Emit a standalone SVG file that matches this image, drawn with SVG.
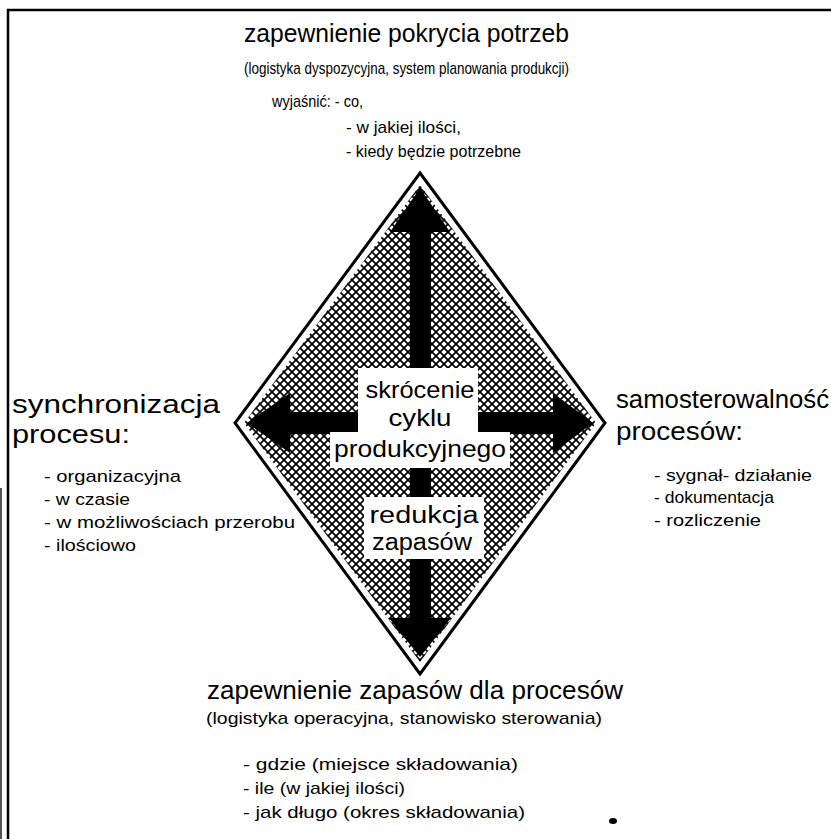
<svg xmlns="http://www.w3.org/2000/svg" width="831" height="839" viewBox="0 0 831 839">
  <style>
    text { font-family: "Liberation Sans", Arial, sans-serif; fill: #000; }
    .big { font-size: 26px; }
    .mid { font-size: 17px; }
    .ctr { font-size: 24px; text-anchor: middle; }
    .ctr2 { font-size: 23px; text-anchor: middle; }
    .frame { stroke: #000; stroke-width: 2.5; fill: none; }
    .arrow { fill: #000; stroke: none; }
    .box { fill: #fff; stroke: none; }
  </style>
  <defs>
    <!-- diagonal cross-hatch used inside the diamond -->
    <pattern id="xhatch" patternUnits="userSpaceOnUse" width="8" height="8">
      <rect width="8" height="8" fill="#fff"/>
      <path d="M-1,-1 L9,9 M9,-1 L-1,9" stroke="#000" stroke-width="1.7"/>
    </pattern>
  </defs>

  <rect width="831" height="839" fill="#fff"/>

  <!-- sheet frame (top and left edges) -->
  <g id="frame">
    <line class="frame" x1="7" y1="10" x2="831" y2="10"/>
    <line class="frame" x1="8" y1="9" x2="8" y2="839"/>
    <line x1="1" y1="488" x2="1" y2="839" stroke="#555" stroke-width="2"/>
    <ellipse cx="613" cy="821" rx="4" ry="3" fill="#000"/>
  </g>

  <!-- diamond with hatched field -->
  <g id="diamond">
    <polygon points="420,173 605,423 420,674 235,423" fill="#fff" stroke="#000" stroke-width="3"/>
    <polygon points="420,185 596,423 420,662 244,423" fill="url(#xhatch)"/>
  </g>

  <!-- four arrows from the centre -->
  <g id="connectors">
    <polygon class="arrow" points="420,188 450,232 431,232 431,368 410,368 410,232 390,232"/>
    <polygon class="arrow" points="247,423 290,393 290,412 358,412 358,434 290,434 290,453"/>
    <polygon class="arrow" points="593,423 553,393 553,412 478,412 478,434 553,434 553,453"/>
    <rect class="arrow" x="410" y="466" width="21" height="32"/>
    <polygon class="arrow" points="420,657 451,618 431,618 431,558 410,558 410,618 389,618"/>
  </g>

  <!-- centre labels -->
  <g id="centre">
    <path class="box" d="M358,368 H478 V432 H510 V468 H330 V432 H358 Z"/>
    <text class="ctr" x="420" y="398" textLength="109" lengthAdjust="spacingAndGlyphs">skrócenie</text>
    <text class="ctr" x="420" y="426" textLength="63" lengthAdjust="spacingAndGlyphs">cyklu</text>
    <text class="ctr" x="420" y="457" textLength="172" lengthAdjust="spacingAndGlyphs">produkcyjnego</text>
  </g>
  <g id="centre-2">
    <rect class="box" x="364" y="497" width="120" height="62"/>
    <text class="ctr2" x="424" y="523" textLength="109" lengthAdjust="spacingAndGlyphs">redukcja</text>
    <text class="ctr2" x="422" y="550" textLength="100" lengthAdjust="spacingAndGlyphs">zapasów</text>
  </g>

  <!-- top: demand coverage -->
  <g id="top">
    <text class="big" x="244" y="42" textLength="325" lengthAdjust="spacingAndGlyphs">zapewnienie pokrycia potrzeb</text>
    <text class="mid" x="244" y="74" textLength="325" lengthAdjust="spacingAndGlyphs">(logistyka dyspozycyjna, system planowania produkcji)</text>
    <text class="mid" x="272" y="107" textLength="91" lengthAdjust="spacingAndGlyphs">wyjaśnić: - co,</text>
    <text class="mid" x="346" y="133" textLength="115" lengthAdjust="spacingAndGlyphs">- w jakiej ilości,</text>
    <text class="mid" x="346" y="157" textLength="175" lengthAdjust="spacingAndGlyphs">- kiedy będzie potrzebne</text>
  </g>

  <!-- left: process synchronisation -->
  <g id="left">
    <text class="big" x="12" y="413" textLength="208" lengthAdjust="spacingAndGlyphs">synchronizacja</text>
    <text class="big" x="12" y="443" textLength="118" lengthAdjust="spacingAndGlyphs">procesu:</text>
    <text class="mid" x="44" y="482" textLength="137" lengthAdjust="spacingAndGlyphs">- organizacyjna</text>
    <text class="mid" x="44" y="505" textLength="86" lengthAdjust="spacingAndGlyphs">- w czasie</text>
    <text class="mid" x="44" y="528" textLength="251" lengthAdjust="spacingAndGlyphs">-  w możliwościach przerobu</text>
    <text class="mid" x="44" y="551" textLength="92" lengthAdjust="spacingAndGlyphs">- ilościowo</text>
  </g>

  <!-- right: self-control of processes -->
  <g id="right">
    <text class="big" x="616" y="408" textLength="213" lengthAdjust="spacingAndGlyphs">samosterowalność</text>
    <text class="big" x="616" y="440" textLength="127" lengthAdjust="spacingAndGlyphs">procesów:</text>
    <text class="mid" x="654" y="481" textLength="158" lengthAdjust="spacingAndGlyphs">- sygnał- działanie</text>
    <text class="mid" x="654" y="503" textLength="120" lengthAdjust="spacingAndGlyphs">- dokumentacja</text>
    <text class="mid" x="654" y="526" textLength="107" lengthAdjust="spacingAndGlyphs">- rozliczenie</text>
  </g>

  <!-- bottom: stock provision -->
  <g id="bottom">
    <text class="big" x="207" y="699" textLength="416" lengthAdjust="spacingAndGlyphs">zapewnienie  zapasów dla procesów</text>
    <text class="mid" x="206" y="724" textLength="396" lengthAdjust="spacingAndGlyphs">(logistyka operacyjna, stanowisko sterowania)</text>
    <text class="mid" x="243" y="770" textLength="275" lengthAdjust="spacingAndGlyphs">- gdzie (miejsce składowania)</text>
    <text class="mid" x="243" y="794" textLength="162" lengthAdjust="spacingAndGlyphs">- ile (w jakiej ilości)</text>
    <text class="mid" x="243" y="818" textLength="282" lengthAdjust="spacingAndGlyphs">- jak długo (okres składowania)</text>
  </g>
</svg>
